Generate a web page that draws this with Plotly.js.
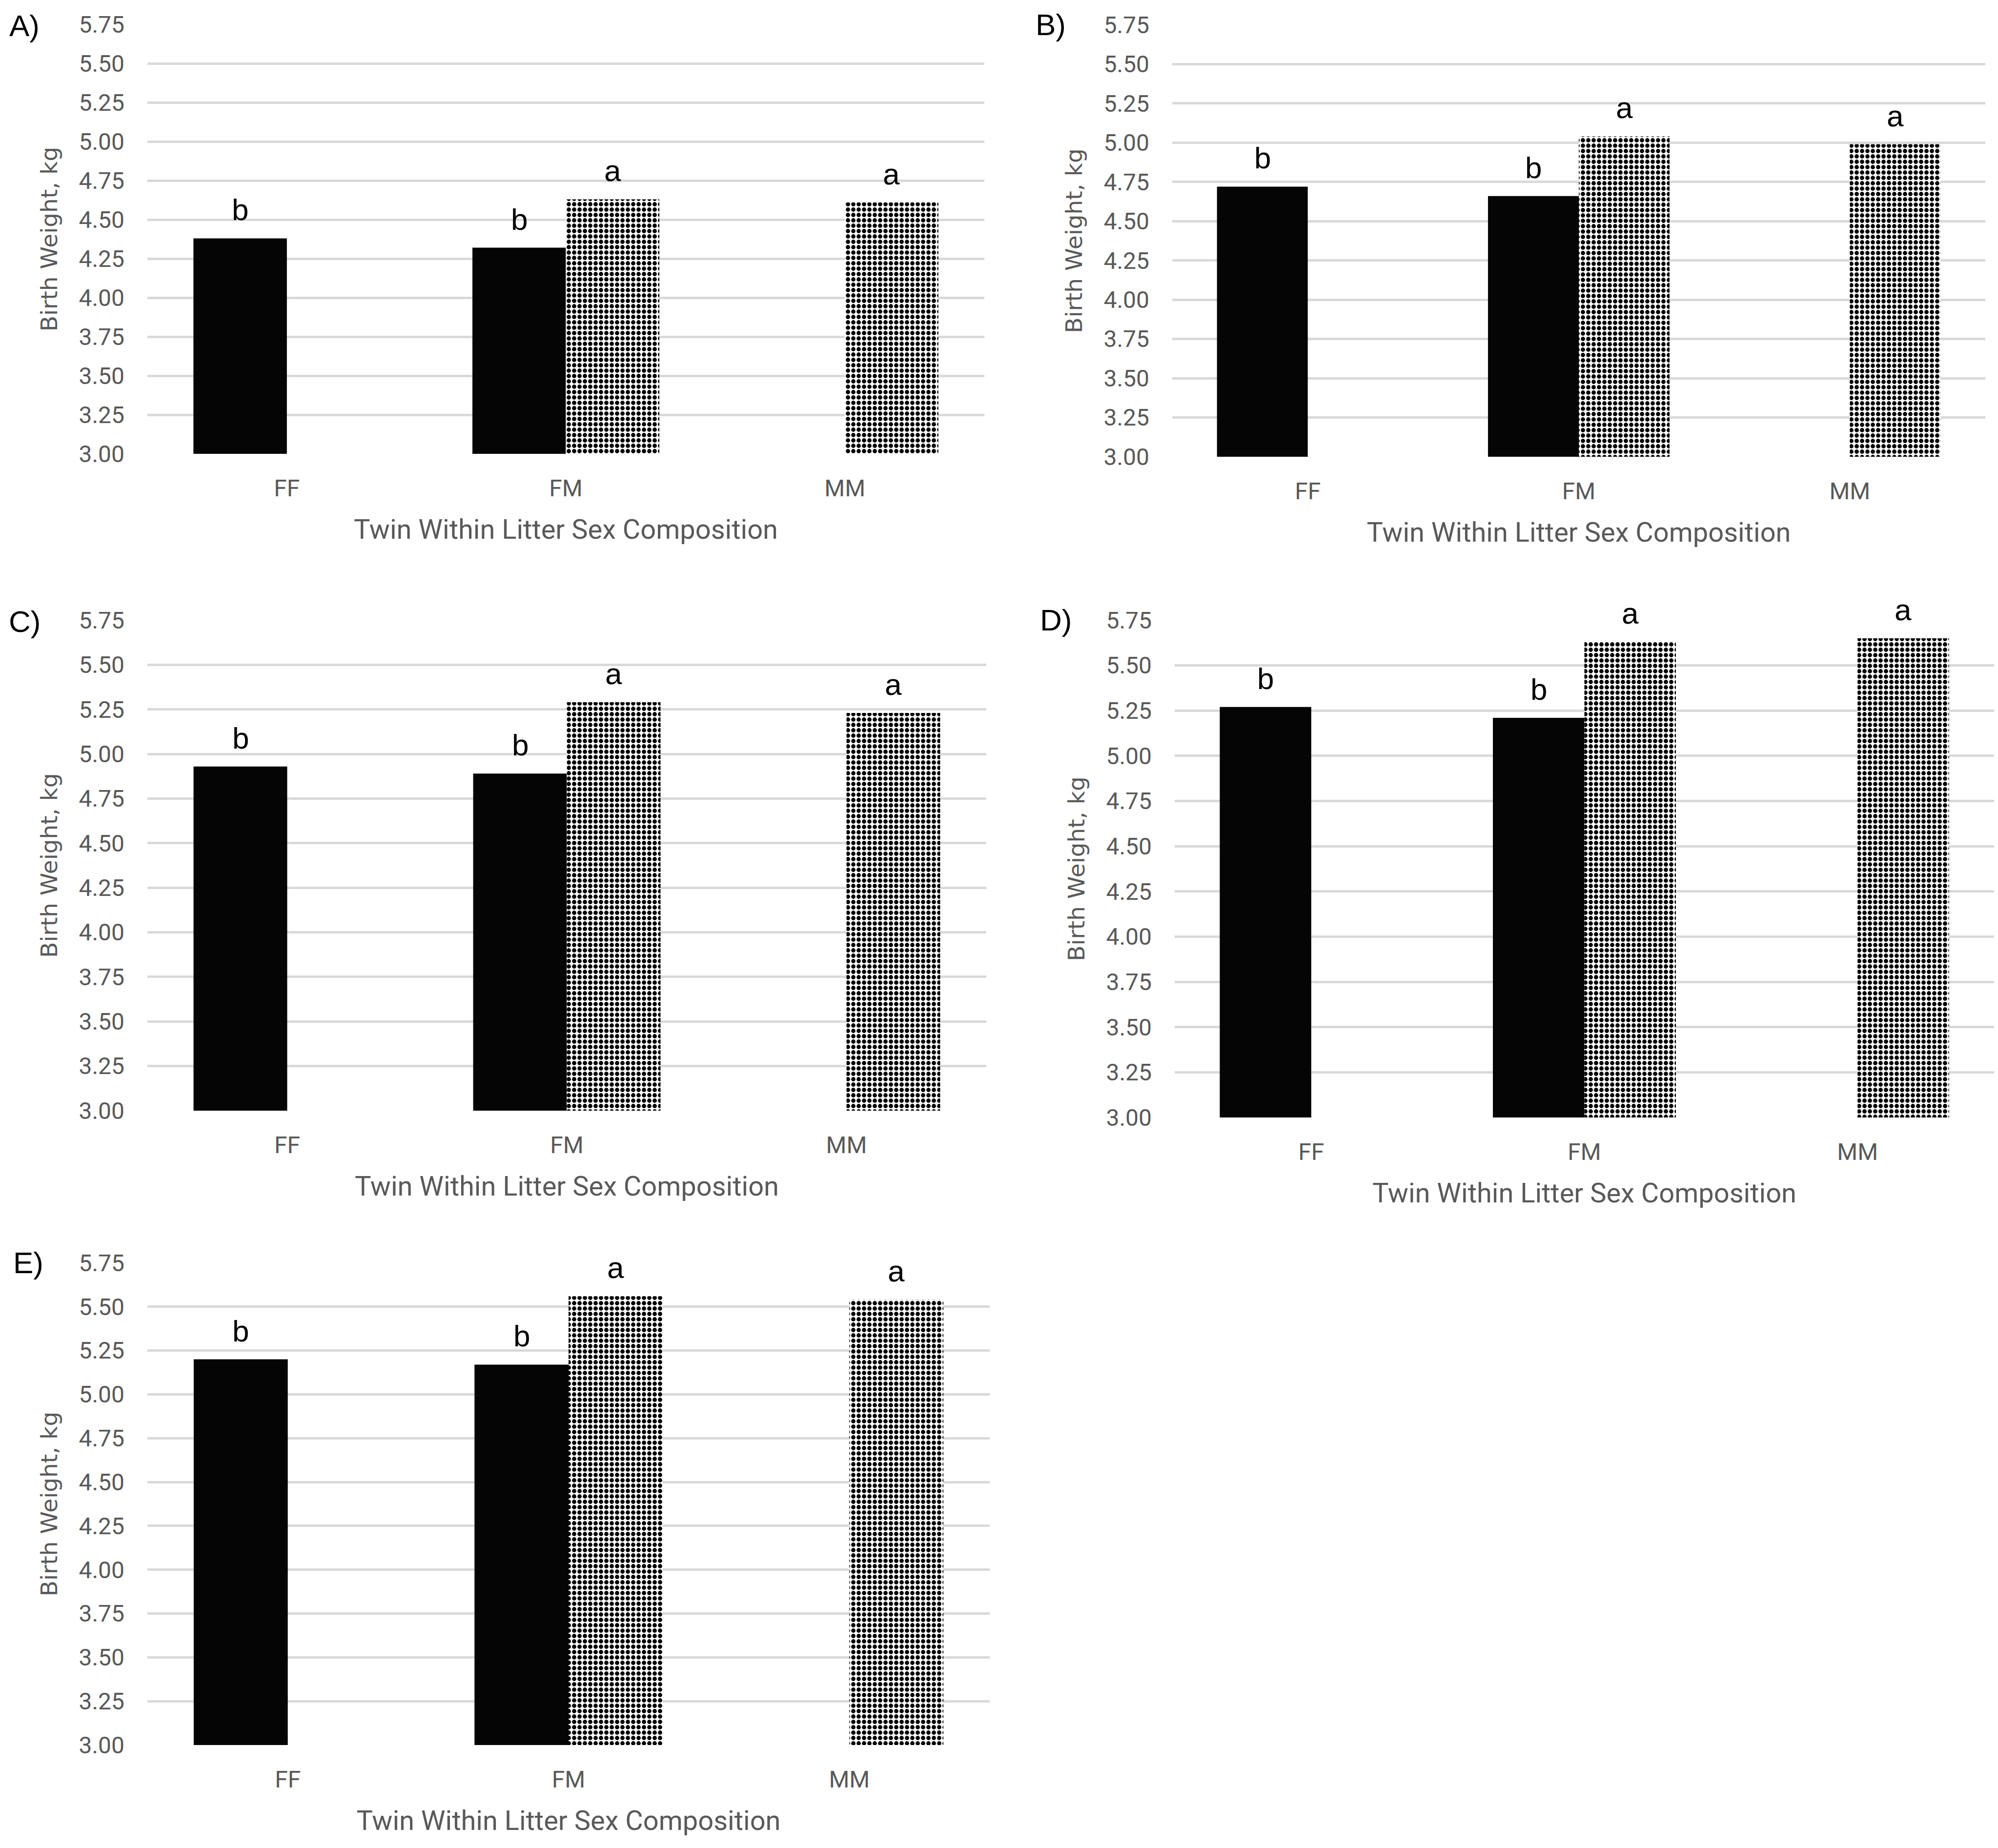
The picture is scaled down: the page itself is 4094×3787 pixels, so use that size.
<!DOCTYPE html>
<html>
<head>
<meta charset="utf-8">
<script src="https://cdn.plot.ly/plotly-3.0.1.min.js"></script>
<style>
  html, body { margin: 0; padding: 0; background: #fff; }
  #myGraph { width: 4094px; height: 3787px; }
</style>
</head>
<body>
<div id="myGraph"></div>
<script>
// sex composition of the twin litter
let categories = ['FF', 'FM', 'MM'];
let panelLabels = ['A)', 'B)', 'C)', 'D)', 'E)'];

// birth weight (kg) of female and male twins, one pair of arrays per panel
let femaleA = [4.38, 4.32, null];
let maleA   = [null, 4.63, 4.61];
let femaleB = [4.72, 4.66, null];
let maleB   = [null, 5.04, 4.99];
let femaleC = [4.93, 4.89, null];
let maleC   = [null, 5.29, 5.23];
let femaleD = [5.27, 5.21, null];
let maleD   = [null, 5.63, 5.65];
let femaleE = [5.20, 5.17, null];
let maleE   = [null, 5.56, 5.54];

// significance letters
let femaleLetters = ['b', 'b', null];
let maleLetters   = [null, 'a', 'a'];

let yTicks = [3.00, 3.25, 3.50, 3.75, 4.00, 4.25, 4.50, 4.75, 5.00, 5.25, 5.50, 5.75];

let femaleSets = [femaleA, femaleB, femaleC, femaleD, femaleE];
let maleSets = [maleA, maleB, maleC, maleD, maleE];

// panel boxes in pixels: [left, right, top, bottom]
let W = 4094, H = 3787;
let boxes = [
    [302, 2017, 50, 930],
    [2402, 4068, 51, 936],
    [302, 2021, 1271, 2276],
    [2407, 4086, 1271, 2290],
    [302, 2028, 2588, 3576]
];
let labelPos = [[50, 52], [2153, 50], [50, 1273], [2163, 1270], [58, 2587]];

let bargap = 0.33;
let half = (1 - bargap) / 4;

let grey = '#595959';
let data = [];
let annotations = [];
let layout = {
    width: W,
    height: H,
    margin: {l: 0, r: 0, t: 0, b: 0},
    paper_bgcolor: 'white',
    plot_bgcolor: 'white',
    showlegend: false,
    barmode: 'group',
    bargap: bargap,
    bargroupgap: 0
};

boxes.forEach((b, i) => {
    let n = i + 1;
    let xa = 'x' + n, ya = 'y' + n;

    data.push({
        type: 'bar',
        name: 'Female',
        x: categories,
        y: femaleSets[i],
        xaxis: xa,
        yaxis: ya,
        marker: {color: '#050505', line: {width: 0}},
        hoverinfo: 'skip'
    });
    data.push({
        type: 'bar',
        name: 'Male',
        x: categories,
        y: maleSets[i],
        xaxis: xa,
        yaxis: ya,
        marker: {
            color: 'white',
            line: {width: 0},
            pattern: {shape: '.', fgcolor: 'black', bgcolor: 'white', size: 11, solidity: 0.5}
        },
        hoverinfo: 'skip'
    });

    layout['xaxis' + (n === 1 ? '' : n)] = {
        domain: [b[0] / W, b[1] / W],
        anchor: ya,
        type: 'category',
        showgrid: false,
        zeroline: false,
        showline: false,
        ticks: '',
        ticklabelstandoff: 38,
        tickfont: {family: 'Roboto, Liberation Sans, sans-serif', size: 48, color: grey},
        title: {
            text: 'Twin Within Litter Sex Composition',
            standoff: 36,
            font: {family: 'Roboto, Liberation Sans, sans-serif', size: 56, color: grey}
        },
        automargin: false,
        fixedrange: true
    };
    layout['yaxis' + (n === 1 ? '' : n)] = {
        domain: [1 - b[3] / H, 1 - b[2] / H],
        anchor: xa,
        range: [3, 5.75],
        tickvals: yTicks,
        ticktext: yTicks.map(v => v.toFixed(2)),
        showgrid: true,
        gridcolor: '#d9d9d9',
        gridwidth: 5,
        zeroline: false,
        showline: false,
        ticks: '',
        ticklabelstandoff: 46,
        tickfont: {family: 'Roboto, Liberation Sans, sans-serif', size: 48, color: grey},
        title: {
            text: 'Birth Weight, kg',
            standoff: 28,
            font: {family: 'DejaVu Sans, Verdana, sans-serif', size: 47, color: grey}
        },
        automargin: false,
        fixedrange: true
    };

    // significance letters above each bar
    categories.forEach((c, j) => {
        if (femaleLetters[j] && femaleSets[i][j] != null) {
            annotations.push({
                xref: xa, yref: ya,
                x: j - half, y: femaleSets[i][j],
                text: femaleLetters[j],
                showarrow: false,
                yanchor: 'bottom',
                yshift: 22,
                font: {family: 'Liberation Sans, Arial, sans-serif', size: 62, color: 'black'}
            });
        }
        if (maleLetters[j] && maleSets[i][j] != null) {
            annotations.push({
                xref: xa, yref: ya,
                x: j + half, y: maleSets[i][j],
                text: maleLetters[j],
                showarrow: false,
                yanchor: 'bottom',
                yshift: 22,
                font: {family: 'Liberation Sans, Arial, sans-serif', size: 62, color: 'black'}
            });
        }
    });

    // panel letter
    annotations.push({
        xref: 'paper', yref: 'paper',
        x: labelPos[i][0] / W, y: 1 - labelPos[i][1] / H,
        xanchor: 'center', yanchor: 'middle',
        text: panelLabels[i],
        showarrow: false,
        font: {family: 'Liberation Sans, Arial, sans-serif', size: 62, color: 'black'}
    });
});

layout.annotations = annotations;

Plotly.newPlot('myGraph', data, layout, {staticPlot: true});
</script>
</body>
</html>
